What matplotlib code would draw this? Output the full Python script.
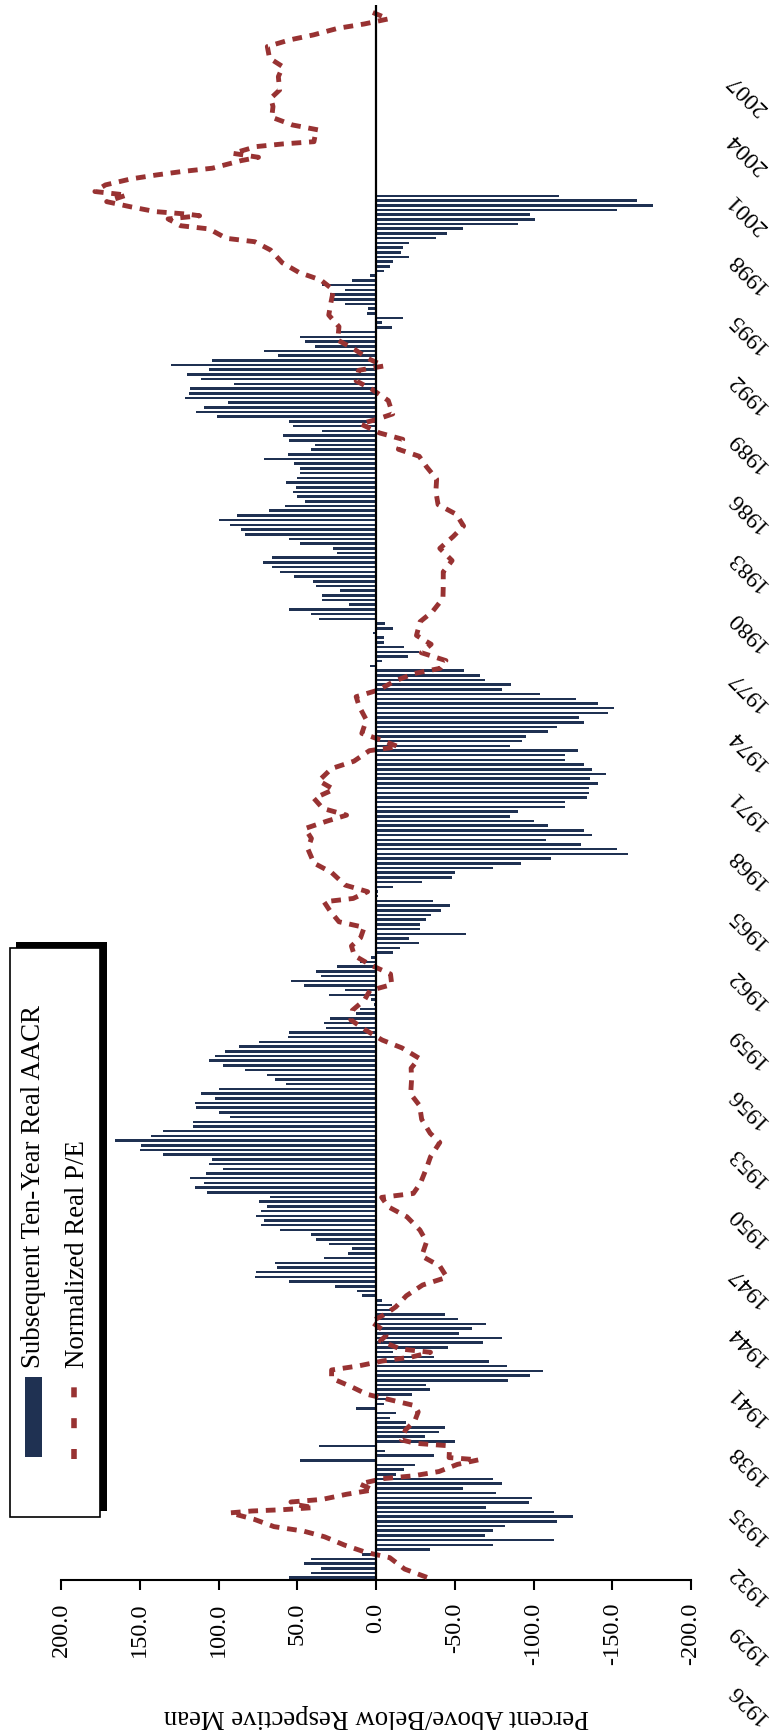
import matplotlib
matplotlib.use("Agg")
import matplotlib.pyplot as plt
from matplotlib.patches import Rectangle
from matplotlib.lines import Line2D

plt.rcParams['font.family'] = ['Liberation Serif', 'DejaVu Serif']

NAVY = "#1f3152"
BRICK = "#983232"

W, H = 772, 1730  # output size in pixels

# Subsequent ten-year real AACR (% above/below mean), quarterly from 1926 Q1.
aacr_newest_first = [
    -116, -166, -176, -153, -98, -101, -90, -55, -45, -38, -21, -17, -16, -21,
    -11, -9, -5, 4, 15, 34, 20, 29, 28, 20, 5, 6, -17, -4, -10, 24, 48, 45, 39,
    71, 62, 104, 130, 106, 120, 111, 90, 118,
    119, 121, 94, 109, 114, 101, 55, 53, 34, 59, 55, 39, 41, 56, 71, 52, 48, 48,
    50, 57, 51, 53, 50, 45, 58, 68, 88, 100, 93, 86, 83, 55, 48, 27, 25, 66, 72,
    66, 61, 52,
    40, 38, 23, 34, 34, 17, 55, 41, 36, -6, -11, 2, -5, -5, -18, -27, -20, -4, 4,
    -56, -66, -69, -86, -80, -104, -127, -141, -151, -147, -129, -132, -115,
    -109, -95, -93, -85, -128, -120, -120, -132, -137,
    -146, -136, -141, -135, -135, -134, -120, -120, -90, -85, -100, -109, -132,
    -137, -108, -130, -153, -160, -111, -92, -74, -50, -48, -29, -11, -1, -1,
    -36, -47, -41, -35, -32, -28, -28, -57, -21, -27, -15, -11, 3,
    10, 25, 38, 35, 54, 46, 20, 30, 3, 1, 10, 13, 29, 33, 32, 55, 56, 74, 87, 96,
    102, 106, 97, 83, 69, 64, 57, 100, 111, 102, 115, 114, 100, 93, 116, 116,
    135, 143, 166, 149,
    150, 135, 104, 106, 97, 108, 118, 109, 115, 107, 67, 74, 69, 73, 76, 71, 73,
    61, 41, 38, 30, 15, 18, 33, 64, 63, 76, 77, 55, 26, 12, 9, -4, -10, -10, -44,
    -52, -70, -61, -53, -80,
    -68, -46, -11, -37, -72, -83, -106, -98, -84, -32, -34, -23, -8, -5, 13, -13,
    -9, -19, -44, -40, -31, -50, 36, -6, -37, 48, -25, -18, -13, -74, -80, -55,
    -76, -99, -97, -70, -113, -125, -115, -82,
    -74, -69, -113, -74, -34, 9, 41, 46, 35, 41, 55,
]
aacr = aacr_newest_first[::-1]
aacr_dates = [1926.0 + 0.25 * i for i in range(len(aacr))]

# Normalized real P/E (% above/below mean)
pe_dates = [
    1926.02, 1926.46, 1927.07, 1927.35, 1927.74, 1928.18, 1928.48, 1928.72,
    1929.11, 1929.45, 1929.55, 1929.62, 1929.73, 1929.87, 1930.03, 1930.17,
    1930.44, 1930.67, 1930.99, 1931.27, 1931.42, 1931.65, 1932.03, 1932.27,
    1932.39, 1932.71, 1933.03, 1933.15, 1933.33, 1933.86, 1934.34, 1934.82,
    1935.16, 1935.46, 1935.76, 1936.17, 1936.61, 1937.05, 1937.27, 1937.53,
    1937.74, 1937.99, 1938.17, 1938.60, 1938.88, 1939.09, 1939.62, 1940.06,
    1940.41, 1941.00, 1941.57, 1941.98, 1942.58, 1943.11, 1943.87, 1944.49,
    1945.20, 1945.73, 1946.23, 1946.44, 1946.98, 1947.86, 1948.39, 1949.15,
    1949.64, 1950.38, 1951.11, 1951.73, 1952.51, 1953.10, 1953.63, 1954.18,
    1954.60, 1955.12, 1955.67, 1956.18, 1956.73, 1957.23, 1957.55, 1958.11,
    1958.59, 1959.09, 1959.60, 1960.04, 1960.59, 1960.89, 1961.48, 1961.95,
    1962.13, 1962.49, 1962.84, 1963.51, 1964.01, 1964.77, 1965.32, 1965.85,
    1966.23, 1966.56, 1966.92, 1967.45, 1967.93, 1968.39, 1969.04, 1969.43,
    1969.99, 1970.20, 1970.52, 1970.91, 1971.62, 1972.33, 1972.86, 1973.22,
    1973.70, 1974.10, 1974.37, 1974.78, 1975.20, 1975.65, 1976.12, 1976.85,
    1977.38, 1978.09, 1978.71, 1979.50, 1980.10, 1980.75, 1981.38, 1981.94,
    1982.56, 1983.08, 1983.77, 1984.43, 1985.10, 1985.65, 1986.02, 1986.55,
    1986.89, 1987.37, 1987.62, 1987.90, 1988.61, 1989.18, 1989.66, 1990.22,
    1990.45, 1990.86, 1991.34, 1991.83, 1992.54, 1993.16, 1993.87, 1994.49,
    1995.02, 1995.43, 1995.94, 1996.62, 1997.06, 1997.24, 1997.74, 1997.91,
    1998.27, 1998.44, 1998.53, 1998.66, 1998.92, 1999.19, 1999.54, 1999.73,
    2000.08, 2000.40, 2000.61, 2000.79, 2000.97, 2001.37, 2001.55, 2001.76,
    2002.12, 2002.26, 2002.38, 2002.65, 2003.01, 2003.27, 2003.68, 2004.25,
    2004.69, 2005.13, 2005.84, 2006.37, 2006.82, 2007.44, 2007.79, 2008.06,
    2008.41, 2008.64, 2008.91, 2009.30,
]
pe_values = [
    -32.4, -18.2, -8.7, 6.4, 20.1, 32.7, 46.0, 64.8,
    77.4, 92.7, 78.8, 59.2, 39.7, 49.4, 54.0, 34.0,
    18.7, 2.0, 10.3, -4.2, -23.7, -40.0, -51.7, -65.0,
    -46.4, -46.6, -44.4, -25.1, -16.2, -18.7, -24.6, -26.8,
    -24.3, -9.2, 5.9, 15.9, 28.2, 28.2, 10.9, -4.2,
    -22.6, -34.6, -15.4, -2.8, -6.4, -5.9, 3.1, -6.7,
    -12.6, -19.3, -29.6, -45.0, -40.5, -29.0, -32.1, -27.9,
    -19.6, -7.8, -3.6, -23.7, -28.2, -32.4, -34.6, -40.5,
    -34.4, -29.0, -27.7, -22.0, -22.6, -22.3, -27.4, -16.5,
    -3.9, 6.4, 16.0, 15.0, 7.3, 3.9, -10.0, -9.2,
    3.4, 13.7, 15.6, 9.8, 7.5, 23.5, 29.3, 33.0,
    14.5, 5.3, 19.6, 28.2, 39.4, 43.3, 41.0, 45.0,
    31.6, 18.7, 33.8, 39.4, 26.8, 36.3, 28.2, 14.0,
    4.2, -14.2, -4.5, 9.0, 6.1, 10.6, 12.6, -1.7,
    -12.0, -24.6, -40.8, -44.4, -28.8, -35.0, -25.7, -28.0,
    -35.8, -42.5, -42.7, -42.7, -48.3, -40.5, -49.0, -55.6,
    -51.0, -39.4, -38.0, -38.5, -32.0, -27.4, -14.2, -17.0,
    -2.2, 9.8, -0.8, -10.6, -7.8, 2.0, 12.6, 11.0,
    -5.0, 5.3, 13.7, 24.3, 23.5, 30.0, 28.5, 27.0,
    35.0, 49.0, 59.5, 67.0, 77.0, 95.0, 106.0, 124.0,
    132.0, 112.0, 120.0, 140.0, 156.0, 171.0, 158.4, 178.5,
    171.8, 155.6, 139.4, 123.5, 103.9, 85.8, 74.6, 90.8,
    76.0, 59.2, 39.4, 38.8, 36.9, 53.1, 66.2, 65.4,
    66.8, 61.2, 62.0, 59.2, 67.6, 69.0, 55.0, 39.7,
    24.3, 7.5, -7.8, 3.4,
]

value_ticks = [200, 150, 100, 50, 0, -50, -100, -150, -200]
year_labels = list(range(1926, 2008, 3))


def fx(px):
    return px / W


def fy(py_top):
    # pixel measured from the top edge -> figure fraction
    return 1 - py_top / H


fig = plt.figure(figsize=(W / 100, H / 100), dpi=100)
ax = fig.add_axes([fx(61), fy(1580), fx(630), 1575 / H])

# the chart is turned on its side: values run right-to-left, time bottom-to-top
ax.barh(aacr_dates, aacr, height=0.135, color=NAVY, zorder=2)
ax.plot(pe_values, pe_dates, color=BRICK, lw=3.5, dashes=(2.0, 1.6),
        dash_capstyle='butt', zorder=3)
ax.axvline(0, color='black', lw=1.6, zorder=4)

ax.set_xlim(200, -200)
ax.set_ylim(1925.88, 2009.65)
for side in ['left', 'right', 'top']:
    ax.spines[side].set_visible(False)
ax.spines['bottom'].set_linewidth(1.5)

ax.set_xticks(value_ticks)
ax.set_xticklabels([f"{v:.1f}" for v in value_ticks], rotation=90, fontsize=17.5)
ax.tick_params(axis='x', length=7.2, width=1.5, pad=9, direction='out')
ax.set_yticks([])

# year labels along the right side
for i, yr in enumerate(year_labels):
    fig.text(fx(747), fy(1703 - i * 59.6), str(yr), rotation=135,
             ha='center', va='center', fontsize=17)

fig.text(fx(376), fy(1717), "Percent Above/Below Respective Mean",
         rotation=180, ha='center', va='center', fontsize=19.3)

# hand-drawn legend, rotated with the chart
tf = fig.transFigure
fig.add_artist(Rectangle((fx(16), fy(1511)), fx(91), 569 / H, transform=tf,
                         fc='black', ec='none'))
fig.add_artist(Rectangle((fx(10), fy(1517)), fx(90), 569 / H, transform=tf,
                         fc='white', ec='black', lw=1.2))
fig.add_artist(Rectangle((fx(25), fy(1457)), fx(17), 80 / H, transform=tf,
                         fc=NAVY, ec='none'))
fig.add_artist(Line2D([fx(74), fx(74)], [fy(1459), fy(1387)], transform=tf,
                      color=BRICK, lw=4, dashes=(1.8, 3.75), dash_capstyle='butt'))
fig.text(fx(34), fy(1368), "Subsequent Ten-Year Real AACR", rotation=90,
         ha='center', va='bottom', fontsize=19.4)
fig.text(fx(77), fy(1368), "Normalized Real P/E", rotation=90,
         ha='center', va='bottom', fontsize=19.4)

fig.savefig("out.png", dpi=100)
